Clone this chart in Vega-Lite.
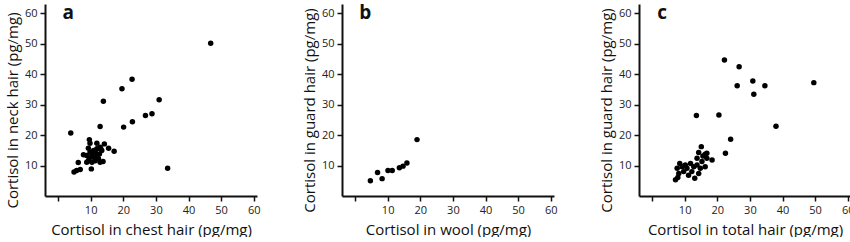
{
  "$schema": "https://vega.github.io/schema/vega-lite/v6.json",
  "padding": {"left": 5, "top": 3, "right": 0, "bottom": 0},
  "background": "white",
  "bounds": "flush",
  "spacing": 85,
  "config": {
    "view": {"stroke": null},
    "font": "Open Sans",
    "axis": {
      "domainColor": "#111", "domainWidth": 2, "tickColor": "#111", "tickWidth": 1.5, "tickSize": 5,
      "grid": false, "labelFont": "Open Sans", "labelFontSize": 11, "labelColor": "#222", "labelOverlap": false,
      "titleFont": "Open Sans", "titleFontSize": 15, "titleFontWeight": "normal", "titleColor": "#111"
    },
    "axisX": {"labelPadding": 3, "titlePadding": 7},
    "axisY": {"labelPadding": 3, "titlePadding": 4, "titleY": 106}
  },
  "datasets": {
    "a": [
      {"x": 46.8, "y": 50.1}, {"x": 22.7, "y": 38.3}, {"x": 19.6, "y": 35.2}, {"x": 13.9, "y": 31.1},
      {"x": 31.0, "y": 31.6}, {"x": 28.8, "y": 27.0}, {"x": 26.8, "y": 26.4}, {"x": 22.8, "y": 24.4},
      {"x": 20.1, "y": 22.6}, {"x": 12.9, "y": 22.8}, {"x": 3.9, "y": 20.7}, {"x": 33.6, "y": 9.1},
      {"x": 9.6, "y": 18.5}, {"x": 9.8, "y": 17.3}, {"x": 11.9, "y": 17.3}, {"x": 14.2, "y": 17.1},
      {"x": 15.5, "y": 15.7}, {"x": 17.2, "y": 14.7}, {"x": 13.1, "y": 15.5}, {"x": 9.3, "y": 15.7},
      {"x": 7.8, "y": 13.5}, {"x": 6.2, "y": 11.0}, {"x": 4.9, "y": 7.9}, {"x": 5.7, "y": 8.4},
      {"x": 6.8, "y": 8.7}, {"x": 10.2, "y": 8.9}, {"x": 12.9, "y": 11.1}, {"x": 13.8, "y": 11.3},
      {"x": 8.8, "y": 13.3}, {"x": 9.6, "y": 12.5}, {"x": 10.4, "y": 13.8}, {"x": 10.9, "y": 14.9},
      {"x": 11.4, "y": 14.4}, {"x": 11.9, "y": 13.3}, {"x": 9.3, "y": 11.6}, {"x": 10.4, "y": 11.1},
      {"x": 11.4, "y": 11.6}, {"x": 12.4, "y": 12.2}, {"x": 12.7, "y": 13.8}, {"x": 13.4, "y": 14.9},
      {"x": 9.8, "y": 14.4}, {"x": 10.9, "y": 12.7}, {"x": 11.9, "y": 15.5}, {"x": 8.8, "y": 11.1},
      {"x": 12.9, "y": 16.0}
    ],
    "b": [
      {"x": 4.7, "y": 5.0}, {"x": 6.9, "y": 7.7}, {"x": 8.3, "y": 5.7}, {"x": 10.1, "y": 8.4},
      {"x": 11.4, "y": 8.4}, {"x": 13.6, "y": 9.3}, {"x": 14.7, "y": 9.8}, {"x": 15.9, "y": 10.8},
      {"x": 19.0, "y": 18.5}
    ],
    "c": [
      {"x": 22.2, "y": 44.6}, {"x": 26.7, "y": 42.4}, {"x": 30.9, "y": 37.7}, {"x": 49.6, "y": 37.2},
      {"x": 26.1, "y": 36.2}, {"x": 34.6, "y": 36.2}, {"x": 31.2, "y": 33.4}, {"x": 13.6, "y": 26.4},
      {"x": 20.5, "y": 26.6}, {"x": 38.0, "y": 22.9}, {"x": 24.1, "y": 18.6}, {"x": 22.5, "y": 14.0},
      {"x": 15.1, "y": 16.2}, {"x": 14.3, "y": 14.3}, {"x": 16.3, "y": 13.7}, {"x": 13.8, "y": 12.4},
      {"x": 16.8, "y": 12.4}, {"x": 18.4, "y": 11.8}, {"x": 15.3, "y": 11.3}, {"x": 16.3, "y": 9.6},
      {"x": 14.8, "y": 9.1}, {"x": 12.8, "y": 9.6}, {"x": 11.8, "y": 10.7}, {"x": 10.7, "y": 9.1},
      {"x": 9.7, "y": 8.0}, {"x": 8.5, "y": 10.7}, {"x": 7.7, "y": 9.1}, {"x": 8.2, "y": 7.4},
      {"x": 11.2, "y": 6.8}, {"x": 13.1, "y": 5.8}, {"x": 7.2, "y": 5.3}, {"x": 7.9, "y": 6.1},
      {"x": 12.2, "y": 8.0}, {"x": 13.8, "y": 10.2}, {"x": 9.2, "y": 9.6}, {"x": 10.2, "y": 10.2},
      {"x": 15.6, "y": 13.1}, {"x": 14.3, "y": 7.4}, {"x": 16.8, "y": 14.0}
    ]
  },
  "hconcat": [
    {
      "width": 212, "height": 192,
      "layer": [
        {
          "data": {"name": "a"},
          "mark": {"type": "circle", "size": 30, "color": "#000", "opacity": 1},
          "encoding": {
            "x": {"field": "x", "type": "quantitative", "scale": {"domain": [-4, 61], "nice": false, "zero": false},
                  "axis": {"values": [0, 10, 20, 30, 40, 50, 60], "labelExpr": "datum.value == 0 ? '' : datum.label", "title": "Cortisol in chest hair (pg/mg)"}},
            "y": {"field": "y", "type": "quantitative", "scale": {"domain": [0, 63], "nice": false},
                  "axis": {"values": [10, 20, 30, 40, 50, 60], "title": "Cortisol in neck hair (pg/mg)"}}
          }
        },
        {
          "data": {"values": [{"panel": "a"}]},
          "mark": {"type": "text", "fontSize": 19, "fontWeight": "bold", "align": "center", "baseline": "alphabetic", "color": "#111"},
          "encoding": {
            "x": {"datum": 3.1, "type": "quantitative", "scale": {"domain": [-4, 61], "nice": false, "zero": false},
                  "axis": {"values": [0, 10, 20, 30, 40, 50, 60], "labelExpr": "datum.value == 0 ? '' : datum.label", "title": "Cortisol in chest hair (pg/mg)"}},
            "y": {"datum": 58.2, "type": "quantitative", "scale": {"domain": [0, 63], "nice": false},
                  "axis": {"values": [10, 20, 30, 40, 50, 60], "title": "Cortisol in neck hair (pg/mg)"}},
            "text": {"field": "panel"}
          }
        }
      ]
    },
    {
      "width": 212, "height": 192,
      "layer": [
        {
          "data": {"name": "b"},
          "mark": {"type": "circle", "size": 30, "color": "#000", "opacity": 1},
          "encoding": {
            "x": {"field": "x", "type": "quantitative", "scale": {"domain": [-4, 61], "nice": false, "zero": false},
                  "axis": {"values": [0, 10, 20, 30, 40, 50, 60], "labelExpr": "datum.value == 0 ? '' : datum.label", "title": "Cortisol in wool (pg/mg)"}},
            "y": {"field": "y", "type": "quantitative", "scale": {"domain": [0, 63], "nice": false},
                  "axis": {"values": [10, 20, 30, 40, 50, 60], "title": "Cortisol in guard hair (pg/mg)"}}
          }
        },
        {
          "data": {"values": [{"panel": "b"}]},
          "mark": {"type": "text", "fontSize": 19, "fontWeight": "bold", "align": "center", "baseline": "alphabetic", "color": "#111"},
          "encoding": {
            "x": {"datum": 3.1, "type": "quantitative", "scale": {"domain": [-4, 61], "nice": false, "zero": false},
                  "axis": {"values": [0, 10, 20, 30, 40, 50, 60], "labelExpr": "datum.value == 0 ? '' : datum.label", "title": "Cortisol in wool (pg/mg)"}},
            "y": {"datum": 58.2, "type": "quantitative", "scale": {"domain": [0, 63], "nice": false},
                  "axis": {"values": [10, 20, 30, 40, 50, 60], "title": "Cortisol in guard hair (pg/mg)"}},
            "text": {"field": "panel"}
          }
        }
      ]
    },
    {
      "width": 212, "height": 192,
      "layer": [
        {
          "data": {"name": "c"},
          "mark": {"type": "circle", "size": 30, "color": "#000", "opacity": 1},
          "encoding": {
            "x": {"field": "x", "type": "quantitative", "scale": {"domain": [-4, 61], "nice": false, "zero": false},
                  "axis": {"values": [0, 10, 20, 30, 40, 50, 60], "labelExpr": "datum.value == 0 ? '' : datum.label", "title": "Cortisol in total hair (pg/mg)"}},
            "y": {"field": "y", "type": "quantitative", "scale": {"domain": [0, 63], "nice": false},
                  "axis": {"values": [10, 20, 30, 40, 50, 60], "title": "Cortisol in guard hair (pg/mg)"}}
          }
        },
        {
          "data": {"values": [{"panel": "c"}]},
          "mark": {"type": "text", "fontSize": 19, "fontWeight": "bold", "align": "center", "baseline": "alphabetic", "color": "#111"},
          "encoding": {
            "x": {"datum": 3.1, "type": "quantitative", "scale": {"domain": [-4, 61], "nice": false, "zero": false},
                  "axis": {"values": [0, 10, 20, 30, 40, 50, 60], "labelExpr": "datum.value == 0 ? '' : datum.label", "title": "Cortisol in total hair (pg/mg)"}},
            "y": {"datum": 58.2, "type": "quantitative", "scale": {"domain": [0, 63], "nice": false},
                  "axis": {"values": [10, 20, 30, 40, 50, 60], "title": "Cortisol in guard hair (pg/mg)"}},
            "text": {"field": "panel"}
          }
        }
      ]
    }
  ]
}
